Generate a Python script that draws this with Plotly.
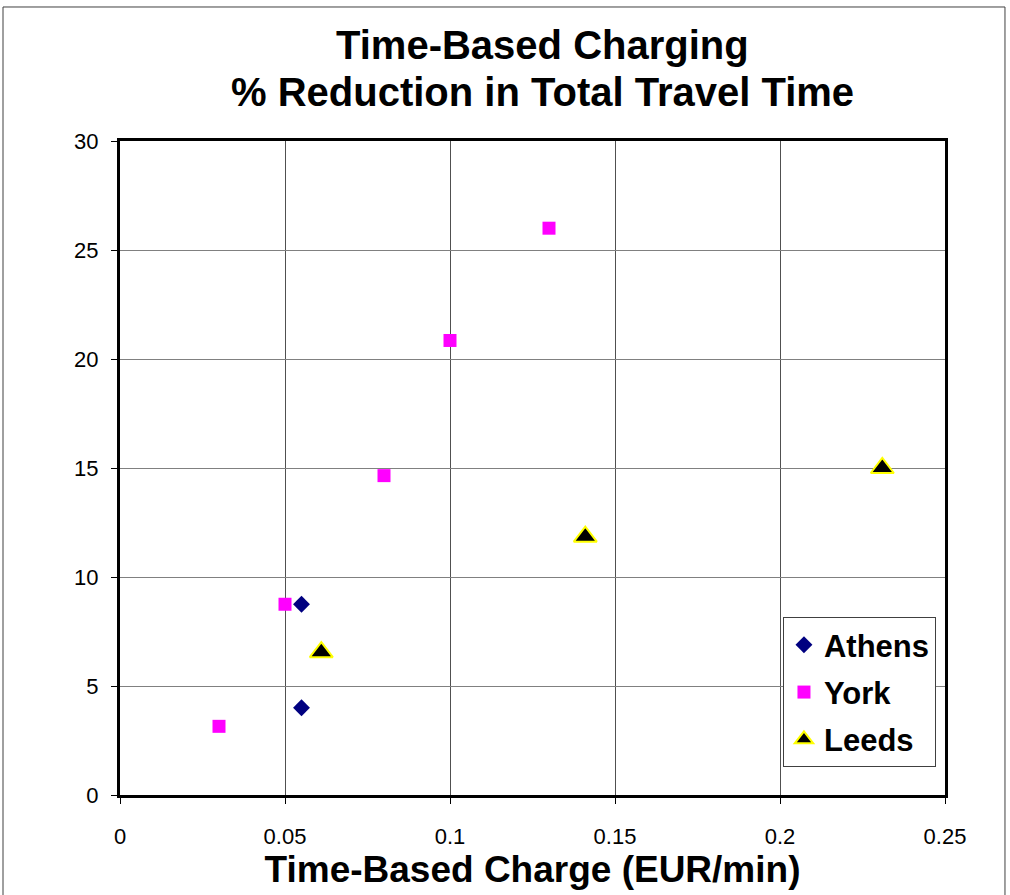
import plotly.graph_objects as go

athens_x = [0.055, 0.055]
athens_y = [8.75, 4.0]
york_x = [0.03, 0.05, 0.08, 0.10, 0.13]
york_y = [3.15, 8.75, 14.65, 20.85, 26.0]
leeds_x = [0.061, 0.141, 0.231]
leeds_y = [6.55, 11.85, 15.0]

x_ticks = [0, 0.05, 0.1, 0.15, 0.2, 0.25]
x_tick_labels = ["0", "0.05", "0.1", "0.15", "0.2", "0.25"]
y_ticks = [0, 5, 10, 15, 20, 25, 30]

title_lines = ["Time-Based Charging", "% Reduction in Total Travel Time"]

FONT = "Liberation Sans, Arial, sans-serif"

fig = go.Figure()
fig.add_trace(go.Scatter(x=athens_x, y=athens_y, mode="markers", name="Athens",
                         legendgroup="a",
                         marker=dict(symbol="diamond", size=13, color="#000080",
                                     line=dict(width=0))))
fig.add_trace(go.Scatter(x=york_x, y=york_y, mode="markers", name="York",
                         legendgroup="b",
                         marker=dict(symbol="square", size=13, color="#FF00FF",
                                     line=dict(width=0))))
fig.add_trace(go.Scatter(x=leeds_x, y=leeds_y, mode="markers", name="Leeds",
                         legendgroup="c",
                         marker=dict(symbol="triangle-up", size=20, color="#000000",
                                     line=dict(width=2, color="#FFFF00"))))

fig.update_layout(
    width=1010, height=895,
    margin=dict(l=120, r=65, t=141, b=100),
    paper_bgcolor="white", plot_bgcolor="white",
    font=dict(family=FONT, color="black"),
    showlegend=True,
    legend=dict(x=0.8036, y=0.272, xanchor="left", yanchor="top",
                bgcolor="white", bordercolor="#404040", borderwidth=1,
                font=dict(size=31, family=FONT, color="black", weight="bold"),
                tracegroupgap=4, itemwidth=30),
    xaxis=dict(range=[0, 0.25], tickvals=x_ticks, ticktext=x_tick_labels,
               showgrid=True, gridcolor="#505050", gridwidth=1,
               showline=True, linecolor="black", linewidth=3, mirror=True,
               ticks="outside", ticklen=6, tickcolor="black", tickwidth=1,
               ticklabelstandoff=14,
               tickfont=dict(size=22, family=FONT, color="black"),
               zeroline=False,
               title=dict(text="<b>Time-Based Charge (EUR/min)</b>",
                          font=dict(size=37, family=FONT, color="black"),
                          standoff=0)),
    yaxis=dict(range=[0, 30], tickvals=y_ticks,
               showgrid=True, gridcolor="#808080", gridwidth=1,
               showline=True, linecolor="black", linewidth=3, mirror=True,
               ticks="outside", ticklen=6, tickcolor="black", tickwidth=1,
               ticklabelstandoff=8,
               tickfont=dict(size=22, family=FONT, color="black"),
               zeroline=False),
)

for txt, yp in zip(title_lines, [1.1468, 1.075]):
    fig.add_annotation(text="<b>" + txt + "</b>", xref="paper", yref="paper",
                       x=0.512, y=yp, xanchor="center", yanchor="middle",
                       showarrow=False,
                       font=dict(size=40, family=FONT, color="black"))

# outer frame around chart area
fig.add_shape(type="rect", xref="paper", yref="paper",
              x0=-0.1418, x1=1.0727, y0=-0.2, y1=1.2049,
              line=dict(color="#404040", width=1), fillcolor="rgba(0,0,0,0)",
              layer="below")

fig.write_html("out.html")
